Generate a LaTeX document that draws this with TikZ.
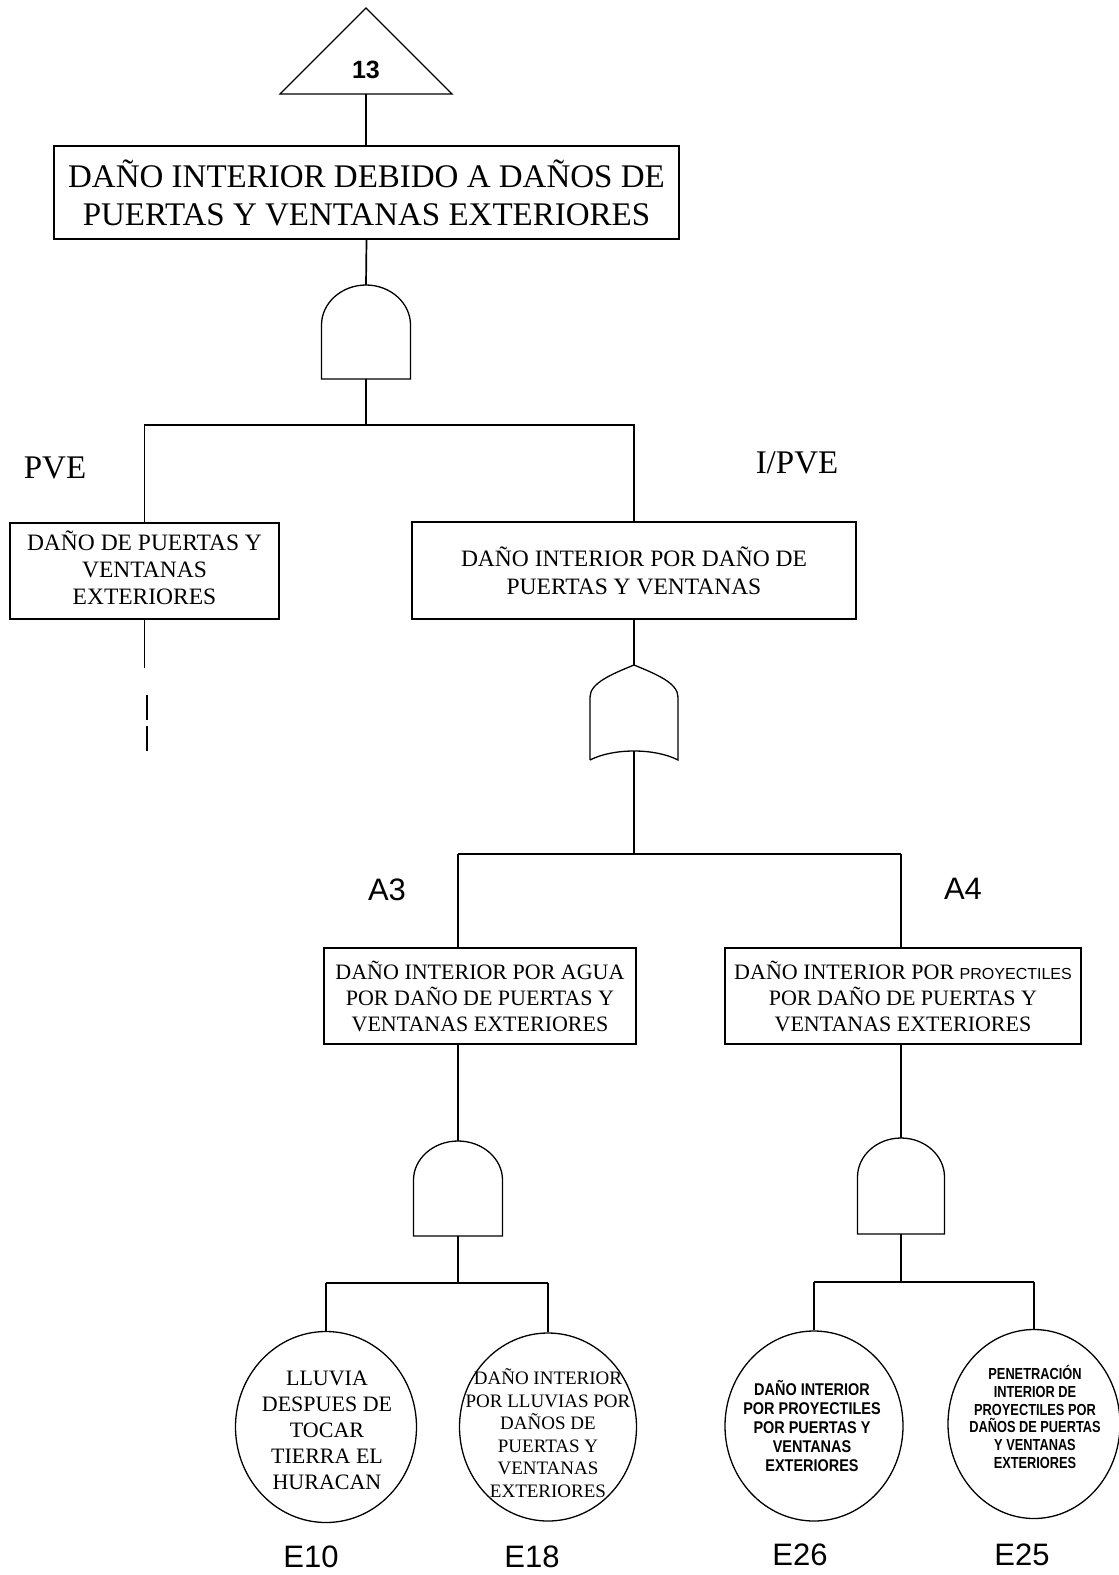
\documentclass[tikz,border=0pt]{standalone}
\usepackage{fontspec}
\setmainfont{Liberation Serif}
\setsansfont{Liberation Sans}
\newfontfamily\narrowA[FakeStretch=0.85]{Liberation Sans}
\newfontfamily\narrowB[FakeStretch=0.80]{Liberation Sans}
\usetikzlibrary{shapes.geometric}

% AND gate: centre x, top y, half width, dome height, bottom y
\newcommand\FTand[5]{%
  \draw[gateline] (#1-#3,#5) -- (#1-#3,#2+#4)
    .. controls (#1-#3,#2+0.45*#4) and (#1-0.55*#3,#2) .. (#1,#2)
    .. controls (#1+0.55*#3,#2) and (#1+#3,#2+0.45*#4) .. (#1+#3,#2+#4)
    -- (#1+#3,#5) -- cycle;}

\begin{document}
\begin{tikzpicture}[x=1pt,y=-1pt,line width=1.7pt,
  gateline/.style={line width=1.3pt},
  evbox/.style={draw,line width=1.8pt,inner sep=0pt,align=center},
  evcirc/.style={draw,ellipse,line width=1.3pt,inner sep=0pt},
  txt/.style={inner sep=0pt,align=center},
  tag/.style={inner sep=0pt,font=\fontsize{33}{38}\selectfont},
  sidtag/.style={inner sep=0pt,font=\sffamily\fontsize{31}{34}\selectfont}]
\useasboundingbox (0,0) rectangle (1119,1575);

% transfer triangle
\coordinate (triapex) at (366,8);
\coordinate (tribase) at (366,94);
\draw[gateline] (triapex) -- (452,94) -- (280,94) -- cycle;
\node[txt,font=\sffamily\bfseries\fontsize{25}{27}\selectfont] (n13) at (366,70) {13};

% top event
\node[evbox,minimum width=625pt,minimum height=93pt,
      font=\fontsize{33}{38}\selectfont] (top) at (366.5,192.5)
  {DAÑO INTERIOR DEBIDO A DAÑOS DE\\PUERTAS Y VENTANAS EXTERIORES};
\draw (tribase) -- (tribase |- top.north);

% first AND gate
\coordinate (g1t) at (366,285);
\coordinate (g1b) at (366,379);
\coordinate (j1) at (366,425);
\FTand{366}{285}{44.5}{40}{379}
\draw (top.south) -- (g1t);
\draw (g1b) -- (j1);

% second level
\node[evbox,minimum width=269pt,minimum height=96pt] (pve) at (144.5,571) {};
\node[txt,font=\fontsize{23.5}{27}\selectfont] (pvet) at (144.5,568)
  {DAÑO DE PUERTAS Y\\VENTANAS\\EXTERIORES};
\node[evbox,minimum width=444pt,minimum height=97pt,
      font=\fontsize{23.5}{28}\selectfont] (ipve) at (634,570.5)
  {DAÑO INTERIOR POR DAÑO DE\\PUERTAS Y VENTANAS};
\draw (pve.north) -- (pve.north |- j1) -- (ipve.north |- j1) -- (ipve.north);
\node[tag] (lpve) at (55,468) {PVE};
\node[tag] (lipve) at (797,463) {I/PVE};

% branch continued elsewhere
\coordinate (pvecont) at (147,695);
\draw (pve.south) -- ++(0,48);
\draw (pvecont) -- ++(0,25) ++(0,6) -- ++(0,25);

% OR gate
\coordinate (g2t) at (634,665);
\coordinate (g2b) at (634,751);
\coordinate (j2) at (634,854);
\draw[gateline] (590,760) -- (590,697)
  .. controls (590,683) and (612,674) .. (g2t)
  .. controls (656,674) and (678,683) .. (678,697)
  -- (678,760) .. controls (655,748) and (613,748) .. (590,760);
\draw (ipve.south) -- (g2t);
\draw (g2b) -- (j2);

% third level
\coordinate (j2l) at (458,854);
\coordinate (j2r) at (901,854);
\node[evbox,minimum width=312pt,minimum height=96pt,
      font=\fontsize{22}{26}\selectfont] (a3) at (480,996)
  {DAÑO INTERIOR POR AGUA\\POR DAÑO DE PUERTAS Y\\VENTANAS EXTERIORES};
\node[evbox,minimum width=356pt,minimum height=96pt,
      font=\fontsize{22}{26}\selectfont] (a4) at (903,996)
  {DAÑO INTERIOR POR {\sffamily\fontsize{16}{16}\selectfont PROYECTILES}\\POR DAÑO DE PUERTAS Y\\VENTANAS EXTERIORES};
\draw (j2l) -- (j2r);
\draw (j2l) -- (j2l |- a3.north);
\draw (j2r) -- (j2r |- a4.north);
\node[sidtag] (la3) at (387,890) {A3};
\node[sidtag] (la4) at (963,889) {A4};

% lower AND gates
\coordinate (g3t) at (458,1141);
\coordinate (g3b) at (458,1236);
\coordinate (j3) at (458,1283);
\FTand{458}{1141}{44.5}{39}{1236}
\draw (j2l |- a3.south) -- (g3t);
\draw (g3b) -- (j3);

\coordinate (g4t) at (901,1138);
\coordinate (g4b) at (901,1234);
\coordinate (j4) at (901,1282);
\FTand{901}{1138}{43.5}{39}{1234}
\draw (j2r |- a4.south) -- (g4t);
\draw (g4b) -- (j4);

% basic events
\node[evcirc,minimum width=181pt,minimum height=191pt] (e10) at (326,1427) {};
\node[evcirc,minimum width=177pt,minimum height=188pt] (e18) at (548,1427) {};
\node[evcirc,minimum width=178pt,minimum height=190pt] (e26) at (814,1426) {};
\node[evcirc,minimum width=172pt,minimum height=189pt] (e25) at (1034,1424) {};

\node[txt,font=\fontsize{22}{26}\selectfont] (e10t) at (327,1430)
  {LLUVIA\\DESPUES DE\\TOCAR\\TIERRA EL\\HURACAN};
\node[txt,font=\fontsize{19}{22.5}\selectfont] (e18t) at (548,1433)
  {DAÑO INTERIOR\\POR LLUVIAS POR\\DAÑOS DE\\PUERTAS Y\\VENTANAS\\EXTERIORES};
\node[txt,font=\narrowA\bfseries\fontsize{17}{19.2}\selectfont] (e26t) at (812,1426)
  {DAÑO INTERIOR\\POR PROYECTILES\\POR PUERTAS Y\\VENTANAS\\EXTERIORES};
\node[txt,font=\narrowB\bfseries\fontsize{16}{17.8}\selectfont] (e25t) at (1035,1417)
  {PENETRACIÓN\\INTERIOR DE\\PROYECTILES POR\\DAÑOS DE PUERTAS\\Y VENTANAS\\EXTERIORES};

\draw (e10.north |- j3) -- (e18.north |- j3);
\draw (e10.north |- j3) -- (e10.north);
\draw (e18.north |- j3) -- (e18.north);
\draw (e26.north |- j4) -- (e25.north |- j4);
\draw (e26.north |- j4) -- (e26.north);
\draw (e25.north |- j4) -- (e25.north);

\node[sidtag] (le10) at (311,1557) {E10};
\node[sidtag] (le18) at (532,1557) {E18};
\node[sidtag] (le26) at (800,1555) {E26};
\node[sidtag] (le25) at (1022,1555) {E25};
\end{tikzpicture}
\end{document}
